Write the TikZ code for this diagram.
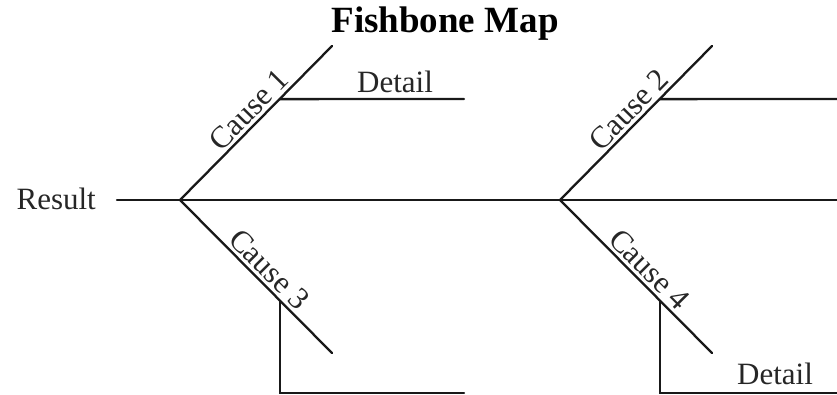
\documentclass[tikz,border=0pt]{standalone}
\usepackage{fontspec}
\setmainfont{Liberation Serif}
\usetikzlibrary{calc}
\begin{document}
\begin{tikzpicture}[x=1pt,y=-1pt,
  bone/.style={line width=2.3pt,black!90,line cap=round},
  lbl/.style={font=\fontsize{31}{36}\selectfont,inner sep=0pt,text=black!85},
  causelbl/.style={lbl,sloped,above,inner sep=3pt,pos=0.52},
]
\useasboundingbox (0,0) rectangle (837,395);

% title and effect
\node[font=\fontsize{37}{44}\selectfont\bfseries] (title) at (445,24) {Fishbone Map};
\node[lbl,anchor=east] (result) at (96,199) {Result};

% spine and joints
\coordinate (tail) at (117,200);
\coordinate (head) at (837,200);
\coordinate (j1) at (180,200);
\coordinate (j2) at (560,200);

% cause bone ends
\coordinate (c1) at (332,46);
\coordinate (c3) at (332,353);
\coordinate (c2) at (712,46);
\coordinate (c4) at (712,353);

% detail branch points
\coordinate (b1) at ($(j1)!0.655!(c1)$);
\coordinate (e1) at (464,99);
\coordinate (b2) at ($(j2)!0.655!(c2)$);
\coordinate (e2) at (837,99);
\coordinate (b3) at ($(j1)!0.66!(c3)$);
\coordinate (k3) at (b3 |- 0,393);
\coordinate (e3) at (464,393);
\coordinate (b4) at ($(j2)!0.66!(c4)$);
\coordinate (k4) at (b4 |- 0,393);
\coordinate (e4) at (837,393);

\draw[bone] (tail) -- (head);
\draw[bone] (j1) -- node[causelbl] (cause1) {Cause 1} (c1);
\draw[bone] (j1) -- node[causelbl] (cause3) {Cause 3} (c3);
\draw[bone] (j2) -- node[causelbl] (cause2) {Cause 2} (c2);
\draw[bone] (j2) -- node[causelbl] (cause4) {Cause 4} (c4);

\draw[bone] (b1) -- (e1);
\draw[bone] (b2) -- (e2);
\draw[bone] (b3) -- (k3) -- (e3);
\draw[bone] (b4) -- (k4) -- (e4);

\node[lbl] (detail1) at (395,82) {Detail};
\node[lbl] (detail4) at (775,374) {Detail};
\end{tikzpicture}
\end{document}
